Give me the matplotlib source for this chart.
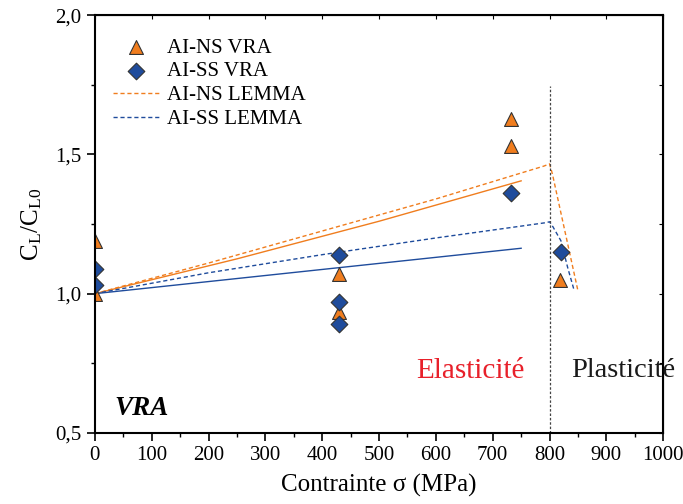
import matplotlib
matplotlib.use("Agg")
import matplotlib.pyplot as plt
from matplotlib.ticker import MultipleLocator, FuncFormatter

plt.rcParams["font.family"] = ["Liberation Serif", "DejaVu Serif"]
plt.rcParams["mathtext.fontset"] = "stix"

# measured points (VRA)
ns_x = [0, 0, 430, 430, 733, 733, 818]
ns_y = [1.19, 1.00, 1.07, 0.935, 1.627, 1.53, 1.05]
ss_x = [0, 0, 430, 430, 430, 733, 820]
ss_y = [1.09, 1.03, 1.14, 0.97, 0.89, 1.362, 1.15]

# LEMMA model curves (dashed)
ns_lemma_x = [0, 200, 400, 600, 790, 800, 805, 820, 835, 850]
ns_lemma_y = [1.00, 1.11, 1.225, 1.34, 1.458, 1.466, 1.43, 1.29, 1.15, 1.01]
ss_lemma_x = [0, 200, 400, 600, 794, 800, 806, 820, 832, 843]
ss_lemma_y = [1.00, 1.075, 1.14, 1.20, 1.255, 1.258, 1.24, 1.19, 1.093, 1.014]

# solid fits
ns_fit_x = [0, 250, 500, 750]
ns_fit_y = [1.00, 1.125, 1.26, 1.405]
ss_fit_x = [0, 750]
ss_fit_y = [1.00, 1.163]

orange = "#F07D1E"
blue = "#1F4C9C"

fig = plt.figure(figsize=(6.83, 5.04), dpi=100)
ax = fig.add_axes([0.139, 0.141, 0.832, 0.829])

ax.plot(ns_fit_x, ns_fit_y, "-", color=orange, lw=1.0)
ax.plot(ss_fit_x, ss_fit_y, "-", color=blue, lw=1.0)
ax.plot(ns_lemma_x, ns_lemma_y, "--", color=orange, lw=1.0, dashes=(3, 2), label="AI-NS LEMMA")
ax.plot(ss_lemma_x, ss_lemma_y, "--", color=blue, lw=1.0, dashes=(3, 2), label="AI-SS LEMMA")

# scatter so the points sitting on x=0 get cut by the axes edge
ax.scatter(ns_x, ns_y, marker="^", s=100, color=orange, edgecolor="#333333", linewidth=0.8,
           label="AI-NS VRA", zorder=2)
ax.scatter(ss_x, ss_y, marker="D", s=72, color=blue, edgecolor="#333333", linewidth=0.8,
           label="AI-SS VRA", zorder=2)

ax.plot([800, 800], [0.5, 1.745], "--", color="#444444", lw=0.9, dashes=(2, 1.5))

ax.set_xlim(0, 1000)
ax.set_ylim(0.5, 2.0)
ax.xaxis.set_major_locator(MultipleLocator(100))
ax.xaxis.set_minor_locator(MultipleLocator(50))
ax.yaxis.set_major_locator(MultipleLocator(0.5))
ax.yaxis.set_minor_locator(MultipleLocator(0.25))
ax.yaxis.set_major_formatter(FuncFormatter(lambda v, p: f"{v:.1f}".replace(".", ",")))
ax.tick_params(which="both", direction="out", top=False, right=False, labelsize=15)
ax.tick_params(which="major", length=6, width=1.2)
ax.tick_params(which="minor", length=3, width=1.0)
for s in ax.spines.values():
    s.set_linewidth(1.5)

sec_x = ax.secondary_xaxis("top")
sec_x.xaxis.set_major_locator(MultipleLocator(100))
sec_x.tick_params(direction="in", length=3, labeltop=False)
sec_y = ax.secondary_yaxis("right")
sec_y.yaxis.set_major_locator(MultipleLocator(0.25))
sec_y.tick_params(direction="in", length=3, labelright=False)

ax.set_xlabel("Contrainte σ (MPa)", fontsize=18, labelpad=6)
ax.set_ylabel(r"C$_\mathregular{L}$/C$_\mathregular{L0}$", fontsize=18, labelpad=8)

ax.text(661, 0.724, "Elasticité", color="#E8202A", fontsize=21, ha="center", va="center")
ax.text(838, 0.724, "Plasticité", color="#1a1a1a", fontsize=20.5, ha="left", va="center", clip_on=False)
ax.text(35, 0.588, "VRA", fontsize=19.5, fontweight="bold", fontstyle="italic", ha="left", va="center")

handles, labels = ax.get_legend_handles_labels()
order = [2, 3, 0, 1]
ax.legend([handles[i] for i in order], [labels[i] for i in order], loc="upper left",
          bbox_to_anchor=(0.01, 0.975), frameon=False, fontsize=15, handlelength=2.2,
          handletextpad=0.4, labelspacing=0.2, borderaxespad=0.2, scatterpoints=1)

fig.savefig("out.png", dpi=100)
